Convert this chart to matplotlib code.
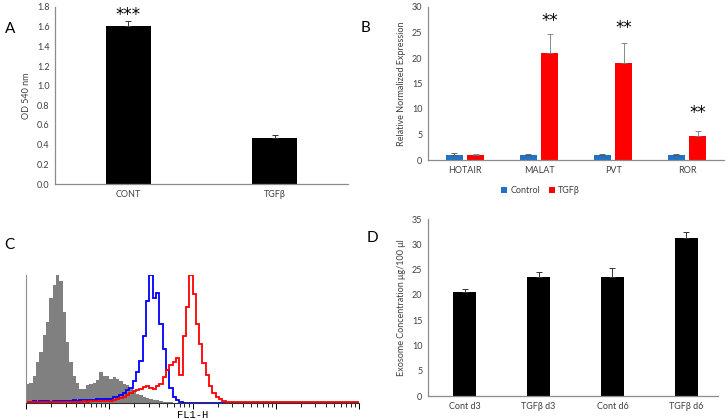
import numpy as np
import matplotlib.pyplot as plt

plt.rcParams['font.family'] = ['Lato', 'DejaVu Sans']

# Panel A - OD 540 nm
a_cats = ['CONT', 'TGFβ']
a_vals = [1.61, 0.465]
a_err = [0.045, 0.03]

# Panel B - relative normalized expression
b_cats = ['HOTAIR', 'MALAT', 'PVT', 'ROR']
b_ctrl = [1.05, 1.0, 1.0, 1.0]
b_ctrl_err = [0.3, 0.12, 0.12, 0.12]
b_tgf = [0.92, 20.9, 19.1, 4.75]
b_tgf_err = [0.25, 3.9, 3.8, 1.0]
b_star_y = [None, 27.3, 25.9, 9.2]

# Panel C - flow histogram, 25 bins per decade over 10^0..10^4 (fraction of peak)
grey_hist = [0.15, 0.16, 0.21, 0.32, 0.40, 0.53, 0.63, 0.82, 0.92, 1.0,
             0.95, 0.71, 0.48, 0.32, 0.21, 0.16, 0.11, 0.11, 0.14, 0.15,
             0.16, 0.18, 0.24, 0.21, 0.21, 0.19, 0.20, 0.19, 0.17, 0.15,
             0.14, 0.12, 0.09, 0.07, 0.06, 0.05, 0.04, 0.03, 0.025, 0.02,
             0.015, 0.01, 0.008, 0.005]
blue_hist = [0.01, 0.01, 0.012, 0.01, 0.015, 0.012, 0.015, 0.01, 0.015, 0.012,
             0.015, 0.015, 0.018, 0.015, 0.02, 0.018, 0.02, 0.022, 0.02, 0.025,
             0.025, 0.028, 0.03, 0.035, 0.03, 0.035, 0.045, 0.05, 0.06, 0.075,
             0.10, 0.12, 0.17, 0.24, 0.33, 0.52, 0.80, 1.0, 0.82, 0.86,
             0.62, 0.42, 0.26, 0.12, 0.05, 0.02, 0.01]
red_hist = [0.005, 0.005, 0.006, 0.005, 0.006, 0.006, 0.007, 0.006, 0.007, 0.008,
            0.008, 0.008, 0.01, 0.008, 0.01, 0.01, 0.01, 0.012, 0.01, 0.012,
            0.012, 0.014, 0.012, 0.015, 0.015, 0.016, 0.02, 0.03, 0.04, 0.05,
            0.06, 0.075, 0.09, 0.10, 0.11, 0.125, 0.13, 0.12, 0.11, 0.13,
            0.15, 0.20, 0.26, 0.30, 0.32, 0.35, 0.22, 0.52, 0.75, 1.0,
            0.85, 0.62, 0.46, 0.31, 0.22, 0.13, 0.08, 0.05, 0.03, 0.015,
            0.01, 0.008, 0.005]
n_bins = 100

# Panel D - exosome concentration
d_cats = ['Cont d3', 'TGFβ d3', 'Cont d6', 'TGFβ d6']
d_vals = [20.6, 23.5, 23.5, 31.2]
d_err = [0.65, 1.1, 1.9, 1.2]

W, H = 728, 419
fig = plt.figure(figsize=(W / 100, H / 100), dpi=100)


def px_axes(left, top, right, bottom):
    return fig.add_axes([left / W, 1 - bottom / H, (right - left) / W, (bottom - top) / H])


def excel_style(ax):
    for s in ['top', 'right']:
        ax.spines[s].set_visible(False)
    for s in ['left', 'bottom']:
        ax.spines[s].set_color('#8c8c8c')
        ax.spines[s].set_linewidth(0.9)
    ax.tick_params(length=0, labelsize=6.5, colors='#404040', pad=4)


txt = '#404040'
fs = 6.5

# ---- A ----
axA = px_axes(55, 7, 348, 184)
xa = np.arange(len(a_cats))
axA.bar(xa, a_vals, width=0.31, color='black',
        yerr=[np.zeros(len(a_vals)), a_err], capsize=2,
        error_kw=dict(ecolor='#333333', elinewidth=0.7, capthick=0.7))
axA.set_xlim(-0.5, 1.5)
axA.set_ylim(0, 1.8)
axA.set_yticks(np.arange(0, 1.81, 0.2))
axA.set_yticklabels(['%.1f' % v for v in np.arange(0, 1.81, 0.2)])
axA.set_xticks(xa)
axA.set_xticklabels(a_cats)
axA.set_ylabel('OD 540 nm', fontsize=fs, color=txt)
excel_style(axA)
axA.text(xa[0], 1.72, '***', ha='center', va='center', fontsize=12, family='DejaVu Sans')

# ---- B ----
axB = px_axes(428, 7, 724, 160)
xb = np.arange(len(b_cats))
axB.bar(xb - 0.145, b_ctrl, width=0.23, color='#1f72c4', label='Control',
        yerr=[np.zeros(4), b_ctrl_err], capsize=2,
        error_kw=dict(ecolor='#555555', elinewidth=0.6, capthick=0.6))
axB.bar(xb + 0.145, b_tgf, width=0.23, color='#ff0000', label='TGFβ',
        yerr=[np.zeros(4), b_tgf_err], capsize=2,
        error_kw=dict(ecolor='#777777', elinewidth=0.6, capthick=0.6))
axB.set_xlim(-0.5, 3.5)
axB.set_ylim(0, 30)
axB.set_yticks(range(0, 31, 5))
axB.set_xticks(xb)
axB.set_xticklabels(b_cats)
axB.set_ylabel('Relative Normalized Expression', fontsize=fs, color=txt)
excel_style(axB)
for i, y in enumerate(b_star_y):
    if y is not None:
        axB.text(xb[i] + 0.145, y, '**', ha='center', va='center', fontsize=12, family='DejaVu Sans')
axB.legend(loc='upper center', bbox_to_anchor=(0.38, -0.12), ncol=2, frameon=False,
           fontsize=fs, handlelength=0.7, handleheight=0.7, handletextpad=0.3,
           columnspacing=1.0, labelcolor=txt)

# ---- C ----
axC = px_axes(26, 275, 359, 403)
edges = np.logspace(0, 4, n_bins + 1)
grey = np.array(grey_hist + [0.0] * (n_bins - len(grey_hist)))
blue = np.array(blue_hist + [0.003] * (n_bins - len(blue_hist)))
red = np.array(red_hist + [0.004] * (n_bins - len(red_hist)))
axC.stairs(grey, edges, fill=True, color='#808080')
axC.stairs(blue, edges, color='#0000ff', lw=1.3)
axC.stairs(red, edges, color='#ff0000', lw=1.3)
axC.set_xscale('log')
axC.set_xlim(1, 1e4)
axC.set_ylim(0, 1.0)
for s in ['top', 'right']:
    axC.spines[s].set_visible(False)
axC.spines['left'].set_color('#8c8c8c')
axC.spines['bottom'].set_color('#333333')
axC.spines['bottom'].set_linewidth(0.8)
axC.set_yticks([])
axC.tick_params(axis='x', which='major', length=4, width=0.7, labelbottom=False)
axC.tick_params(axis='x', which='minor', length=3, width=0.6, labelbottom=False)
axC.set_xlabel('FL1-H', fontsize=7.5, family='Liberation Mono', labelpad=1)

# ---- D ----
axD = px_axes(428, 219, 718, 396)
xd = np.arange(len(d_cats))
axD.bar(xd, d_vals, width=0.31, color='black',
        yerr=[np.zeros(4), d_err], capsize=2,
        error_kw=dict(ecolor='#333333', elinewidth=0.7, capthick=0.7))
axD.set_xlim(-0.5, 3.43)
axD.set_ylim(0, 35)
axD.set_yticks(range(0, 36, 5))
axD.set_xticks(xd)
axD.set_xticklabels(d_cats)
axD.set_ylabel('Exosome Concentration μg/100 μl', fontsize=fs, color=txt)
excel_style(axD)

# panel letters
for lab, x, y in [('A', 10, 29), ('B', 366, 28), ('C', 9, 245), ('D', 372, 238)]:
    fig.text(x / W, 1 - y / H, lab, fontsize=11, ha='center', va='center', color='black')

fig.savefig('out.png', dpi=100)
